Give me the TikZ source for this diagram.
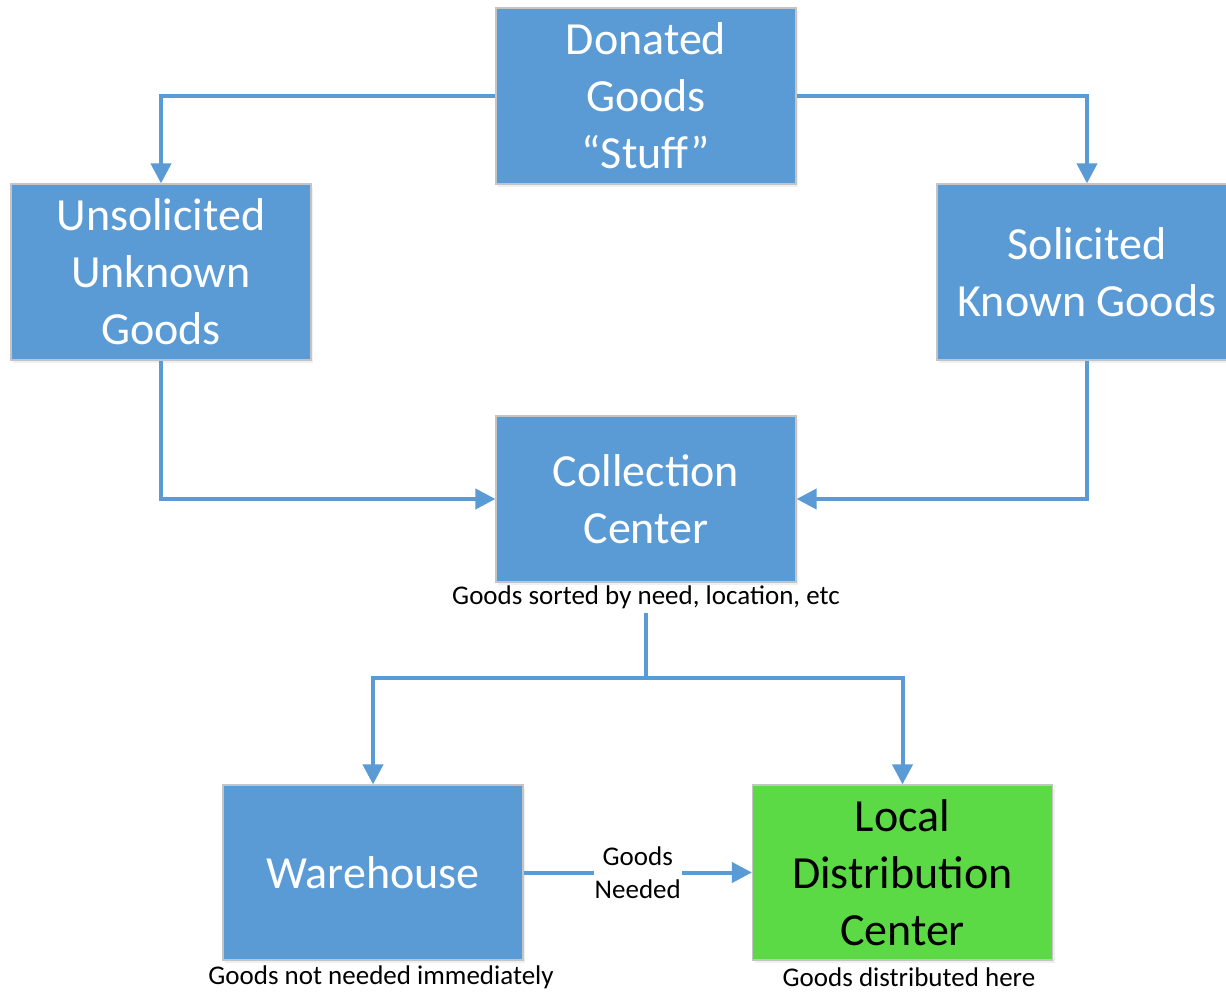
\documentclass[tikz,border=0pt]{standalone}
\usepackage{fontspec}
\setmainfont{Carlito}
\usetikzlibrary{arrows.meta,shadows}
\definecolor{boxblue}{HTML}{5B9BD5}
\definecolor{boxgreen}{HTML}{5BDA46}
\definecolor{boxedge}{HTML}{C4C4C4}
\begin{document}
\begin{tikzpicture}[x=1pt,y=-1pt,
  stage/.style={draw=boxedge, line width=1.2pt, fill=boxblue, text=white,
    minimum width=300pt, minimum height=176pt, align=center, inner sep=0pt,
    font=\fontsize{46}{57}\selectfont,
    drop shadow={opacity=0.12, shadow xshift=2pt, shadow yshift=-3pt}},
  localstage/.style={stage, fill=boxgreen, text=black},
  note/.style={font=\fontsize{27}{33}\selectfont, align=center, inner sep=1pt},
  link/.style={draw=boxblue, line width=4pt},
  flow/.style={link, -{Triangle[length=20pt,width=20pt]}}]

  \useasboundingbox (0,0) rectangle (1226,991);
  \fill[white] (0,0) rectangle (1226,991);
  \clip (0,0) rectangle (1226,991);

  % stages of the donation flow
  \node[stage] (donated) at (646,96) {Donated\\Goods\\“Stuff”};
  \node[stage] (unsol) at (161,272) {Unsolicited\\Unknown\\Goods};
  \node[stage] (sol) at (1087,272) {Solicited\\Known Goods};
  \node[stage, minimum height=166pt] (coll) at (646,499) {Collection\\Center};
  \node[stage, minimum height=175pt] (ware) at (373,872.5) {Warehouse};
  \node[localstage, minimum height=175pt] (local) at (902.5,872.5) {Local\\Distribution\\Center};

  % notes under the stages
  \node[note] (sortnote) at (646,597) {Goods sorted by need, location, etc};
  \node[note] (warenote) at (381,977) {Goods not needed immediately};
  \node[note] (localnote) at (909,977) {Goods distributed here};

  % branch point below the collection centre
  \coordinate (split) at (646,613);
  \coordinate (fork) at (646,678);

  % connectors
  \draw[flow] (donated.west) -| (unsol.north);
  \draw[flow] (donated.east) -| (sol.north);
  \draw[flow] (unsol.south) |- (coll.west);
  \draw[flow] (sol.south) |- (coll.east);
  \draw[link] (split) -- (fork);
  \draw[flow] (fork) -| (ware.north);
  \draw[flow] (fork) -| (local.north);
  \draw[flow] (ware.east) -- node[note, fill=white] (needed) {Goods\\Needed} (local.west);
\end{tikzpicture}
\end{document}
